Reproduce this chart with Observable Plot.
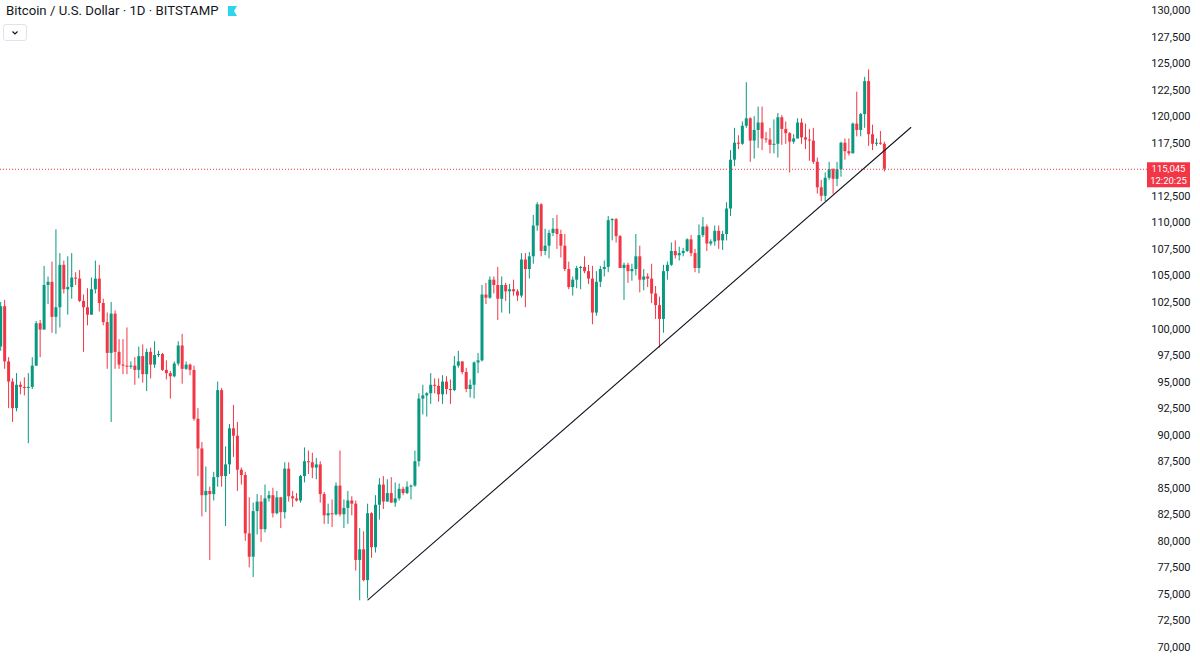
<!DOCTYPE html>
<html>
<head>
<meta charset="utf-8">
<script src="https://cdn.jsdelivr.net/npm/d3@7"></script>
<script src="https://cdn.jsdelivr.net/npm/@observablehq/plot@0.6"></script>
<style>
  html, body { margin: 0; padding: 0; background: #fff; }
  #wrap { position: relative; width: 1200px; height: 662px; overflow: hidden; font-family: Roboto, "Noto Sans", sans-serif; }
  #title { position: absolute; left: 6px; top: 3px; font-size: 13.2px; color: #131722; white-space: nowrap; display: flex; align-items: center; }
  #flag { margin-left: 9px; }
  #dd { position: absolute; left: 3px; top: 24px; width: 22px; height: 15px; border: 1px solid #e0e3eb; border-radius: 3px; background: #fff; }
</style>
</head>
<body>
<div id="wrap">
  <div id="chart"></div>
  <div id="title"><span>Bitcoin / U.S. Dollar · 1D · BITSTAMP</span>
    <svg id="flag" width="9" height="10" viewBox="0 0 9 10"><path d="M0 0 H9 L6 5 L9 10 H0 Z" fill="#2dd4ee"/></svg>
  </div>
  <div id="dd"><svg width="22" height="15" viewBox="0 0 22 15"><polyline points="8.5,6.5 11,9 13.5,6.5" fill="none" stroke="#131722" stroke-width="1.2"/></svg></div>
</div>
<script>
// Daily candles from 2025-01-06 to 2025-08-18 (prices in USD thousands)
const firstDay = "2025-01-06";
const open = [
98.3,102.1,96.9,95.0,92.5,94.7,94.5,94.4,94.5,96.5,100.5,99.9,104.1,104.4,101.1,102.0,106.0,103.7,103.9,104.8,104.7,102.6,102.0,101.3,103.7,104.7,102.4,100.6,97.7,101.4,
97.8,96.6,96.5,96.4,96.5,96.1,97.4,95.7,97.8,96.6,97.5,97.6,96.1,95.8,95.5,96.7,98.4,96.2,96.6,96.1,91.5,88.7,84.3,84.7,84.4,86.0,94.2,86.1,87.2,90.6,
89.9,86.7,86.2,80.7,78.5,82.8,83.7,81.1,84.0,84.3,82.6,84.1,82.7,86.8,84.2,84.0,83.8,86.1,87.5,87.4,86.9,87.2,84.4,82.4,82.6,82.5,85.2,82.5,83.1,83.8,
83.5,78.2,79.2,76.3,82.6,79.4,83.4,85.3,83.7,84.5,83.6,84.0,84.9,84.5,85.1,85.2,87.5,93.4,93.7,93.9,94.7,94.6,93.8,95.0,94.3,94.2,96.5,96.9,95.9,94.3,
94.7,96.8,97.0,103.2,102.9,104.6,104.1,102.8,104.1,103.5,103.7,103.5,103.1,106.5,105.6,106.8,109.7,111.7,107.3,107.8,109.0,109.4,108.9,107.8,105.6,103.9,104.6,105.7,105.8,105.4,
104.7,101.5,104.4,105.6,105.8,110.2,110.3,108.7,105.7,106.0,105.4,105.6,106.8,104.6,104.9,104.7,103.3,102.2,100.9,105.4,106.0,107.3,106.9,107.1,107.3,108.4,107.1,105.7,108.8,109.6,
108.0,108.2,109.2,108.3,108.9,111.3,115.9,117.5,117.4,119.1,119.8,117.7,118.7,119.4,117.9,117.8,117.3,117.4,119.9,118.8,118.4,117.6,117.9,119.4,118.0,117.8,117.7,115.7,113.3,112.5,
114.2,115.0,114.1,115.0,117.5,116.7,116.5,119.3,118.7,120.2,123.3,118.3,117.4,117.5,117.4
];
const high = [
102.5,102.7,97.3,95.3,95.8,95.0,95.4,95.8,97.3,100.7,100.8,105.9,104.9,106.3,109.35,107.1,106.4,106.8,107.1,105.3,105.5,103.2,103.8,104.8,106.4,106.0,102.8,101.5,102.5,101.7,
99.0,99.0,100.1,96.9,97.3,98.3,98.5,98.1,98.2,98.8,97.9,97.7,97.0,96.0,96.9,98.8,99.5,96.9,96.7,96.5,92.5,89.3,87.0,85.1,86.5,95.0,94.4,88.9,91.0,92.8,
91.2,86.9,86.5,84.1,83.6,84.4,84.3,85.3,84.7,85.0,84.7,84.1,87.4,87.4,84.7,84.5,86.2,88.8,88.5,88.3,87.8,87.5,84.6,83.5,83.9,85.5,88.5,83.9,84.7,84.2,
83.8,81.2,80.9,83.5,82.7,84.3,85.9,86.1,85.8,86.0,85.5,85.4,85.1,85.6,85.3,88.5,93.9,94.7,94.0,95.8,95.3,95.3,95.6,95.5,95.2,97.4,97.9,96.9,96.3,95.2,
96.9,97.7,104.1,104.3,104.9,104.9,105.8,104.9,104.3,104.2,104.6,103.7,107.1,107.1,107.2,110.7,111.9,111.8,109.4,109.3,110.4,110.7,109.3,108.9,106.3,104.9,105.9,105.9,106.8,106.0,
105.9,105.4,105.9,106.4,110.6,110.4,110.4,108.8,106.2,106.2,106.1,108.9,107.8,105.6,105.2,106.1,104.0,103.0,106.0,106.3,108.1,108.3,107.7,107.6,108.5,108.8,107.5,109.8,110.5,109.8,
108.4,109.7,109.7,109.2,111.9,116.8,118.9,118.2,119.5,123.2,119.9,120.0,120.9,120.9,118.5,118.9,119.7,120.3,120.1,119.5,118.5,118.3,119.8,119.8,119.3,118.8,118.9,116.1,114.0,114.7,
115.7,115.1,115.7,117.6,117.9,117.9,119.4,122.3,120.3,123.7,124.4,119.2,117.9,118.6,117.6
];
const low = [
97.9,96.2,92.5,91.2,92.2,93.8,93.7,89.2,94.3,96.5,97.3,99.9,102.3,99.6,99.5,100.1,103.3,101.3,102.8,104.1,102.5,97.8,100.3,101.3,103.3,101.6,100.3,96.2,91.2,96.2,
96.2,95.7,95.7,96.2,94.7,95.3,94.9,94.1,95.3,96.3,97.3,96.0,95.2,93.4,95.4,96.5,94.8,96.1,95.6,91.3,86.1,82.3,82.7,78.2,83.8,85.1,85.1,81.4,86.3,87.9,
84.7,85.3,80.0,77.5,76.6,80.6,79.9,80.8,83.7,82.2,82.5,81.2,82.1,83.7,83.2,83.7,83.6,85.5,86.3,85.9,85.8,83.6,81.6,81.6,81.3,82.4,82.3,81.2,81.6,82.4,
77.2,74.4,76.2,74.6,78.4,78.9,82.0,83.0,83.7,83.6,83.2,83.8,84.3,84.4,83.9,85.1,87.0,91.9,91.7,92.9,93.9,93.1,92.9,93.8,92.9,94.1,96.3,95.7,94.0,93.5,
93.4,95.8,96.9,102.3,102.8,103.3,100.8,101.5,102.6,101.4,103.1,102.6,102.9,102.0,104.7,106.1,109.2,106.8,106.9,106.6,108.7,107.5,106.7,105.4,103.7,103.1,103.8,103.7,105.2,104.2,
100.4,101.2,103.9,104.9,105.3,108.3,108.1,105.7,102.7,104.3,104.5,105.0,103.4,103.6,103.9,102.4,100.9,98.2,99.6,104.6,105.9,106.6,106.4,106.8,107.2,106.8,105.3,105.2,108.6,107.3,
107.8,107.8,107.5,107.4,108.3,110.6,115.3,116.9,117.3,118.9,115.7,116.0,117.0,116.8,117.5,116.5,116.5,116.1,117.3,117.4,114.7,117.4,117.9,117.4,116.9,115.8,115.5,112.7,112.0,112.0,
114.0,112.7,113.4,114.3,115.9,116.3,116.5,118.1,118.1,118.9,117.2,116.8,117.2,117.3,114.8
];
const close = [
102.1,96.9,95.0,92.5,94.7,94.5,94.4,94.5,96.5,100.5,99.9,104.1,104.4,101.1,102.0,106.0,103.7,103.9,104.8,104.7,102.6,102.0,101.3,103.7,104.7,102.4,100.6,97.7,101.4,97.8,
96.6,96.5,96.4,96.5,96.1,97.4,95.7,97.8,96.6,97.5,97.6,96.1,95.8,95.5,96.7,98.4,96.2,96.6,96.1,91.5,88.7,84.3,84.7,84.4,86.0,94.2,86.1,87.2,90.6,89.9,
86.7,86.2,80.7,78.5,82.8,83.7,81.1,84.0,84.3,82.6,84.1,82.7,86.8,84.2,84.0,83.8,86.1,87.5,87.4,86.9,87.2,84.4,82.4,82.6,82.5,85.2,82.5,83.1,83.8,83.5,
78.2,79.2,76.3,82.6,79.4,83.4,85.3,83.7,84.5,83.6,84.0,84.9,84.5,85.1,85.2,87.5,93.4,93.7,93.9,94.7,94.6,93.8,95.0,94.3,94.2,96.5,96.9,95.9,94.3,94.7,
96.8,97.0,103.2,102.9,104.6,104.1,102.8,104.1,103.5,103.7,103.5,103.1,106.5,105.6,106.8,109.7,111.7,107.3,107.8,109.0,109.4,108.9,107.8,105.6,103.9,104.6,105.7,105.8,105.4,104.7,
101.5,104.4,105.6,105.8,110.2,110.3,108.7,105.7,106.0,105.4,105.6,106.8,104.6,104.9,104.7,103.3,102.2,100.9,105.4,106.0,107.3,106.9,107.1,107.3,108.4,107.1,105.7,108.8,109.6,108.0,
108.2,109.2,108.3,108.9,111.3,115.9,117.5,117.4,119.1,119.8,117.7,118.7,119.4,117.9,117.8,117.3,117.4,119.9,118.8,118.4,117.6,117.9,119.4,118.0,117.8,117.7,115.7,113.3,112.5,114.2,
115.0,114.1,115.0,117.5,116.7,116.5,119.3,118.7,120.2,123.3,118.3,117.4,117.5,117.4,115.045
];
const lastPrice = 115045;
const countdown = "12:20:25";
const trendDates = ["2025-04-09T02:00:00Z", "2025-08-24T17:00:00Z"];
const trendPrices = [74490, 118980];
// price-scale labels shown (115,000 is hidden behind the last-price label)
const yTicks = [70000, 72500, 75000, 77500, 80000, 82500, 85000, 87500, 90000, 92500, 95000, 97500,
  100000, 102500, 105000, 107500, 110000, 112500, 117500, 120000, 122500, 125000, 127500, 130000];
const up = "#089981", down = "#f23645";

const start = new Date(firstDay + "T00:00:00Z");
const dates = d3.utcDay.range(start, d3.utcDay.offset(start, close.length));
const candles = dates.map((date, i) => ({
  date, open: open[i] * 1000, high: high[i] * 1000, low: low[i] * 1000, close: close[i] * 1000,
  dir: close[i] >= open[i] ? "up" : "down"
}));
const trend = trendDates.map((d, i) => ({date: new Date(d), price: trendPrices[i]}));

const pxPerDay = 3.945;
const paneWidth = 1147;
const xStart = new Date(start.getTime() - 0.2 / pxPerDay * 864e5);
const xEnd = new Date(xStart.getTime() + paneWidth / pxPerDay * 864e5);

const chart = Plot.plot({
  width: 1200,
  height: 662,
  marginLeft: 0,
  marginRight: 1200 - paneWidth,
  marginTop: 10,
  marginBottom: 15,
  style: {fontFamily: "Roboto, 'Noto Sans', sans-serif", fontSize: "11px", color: "#131722", background: "#fff"},
  x: {type: "utc", domain: [xStart, xEnd], axis: null},
  y: {domain: [70000, 130000], axis: null},
  color: {domain: ["up", "down"], range: [up, down]},
  marks: [
    Plot.ruleX(candles, {x: "date", y1: "low", y2: "high", stroke: "dir", strokeWidth: 1}),
    Plot.ruleX(candles, {x: "date", y1: "open", y2: "close", stroke: "dir", strokeWidth: 3}),
    Plot.ruleY([lastPrice], {stroke: down, strokeWidth: 1, strokeDasharray: "1,2"}),
    Plot.line(trend, {x: "date", y: "price", stroke: "#131722", strokeWidth: 1.1}),
    Plot.axisY({anchor: "right", ticks: yTicks, tickSize: 0, tickPadding: 3, tickFormat: d3.format(","), textAnchor: "end", dx: 40, fill: "#131722"})
  ]
});
document.getElementById("chart").appendChild(chart);

// last-price label on the price scale, positioned with the chart's own y scale
const yp = chart.scale("y").apply(lastPrice);
const svg = d3.select(chart);
const g = svg.append("g").attr("font-family", "Roboto, 'Noto Sans', sans-serif").attr("font-size", 9.5).attr("text-anchor", "middle").attr("fill", "#fff");
g.append("rect").attr("x", paneWidth).attr("y", yp - 6.5).attr("width", 43).attr("height", 25).attr("fill", down);
g.append("text").attr("x", paneWidth + 21.5).attr("y", yp + 3).text(d3.format(",")(lastPrice));
g.append("text").attr("x", paneWidth + 21.5).attr("y", yp + 15.3).text(countdown);
</script>
</body>
</html>
